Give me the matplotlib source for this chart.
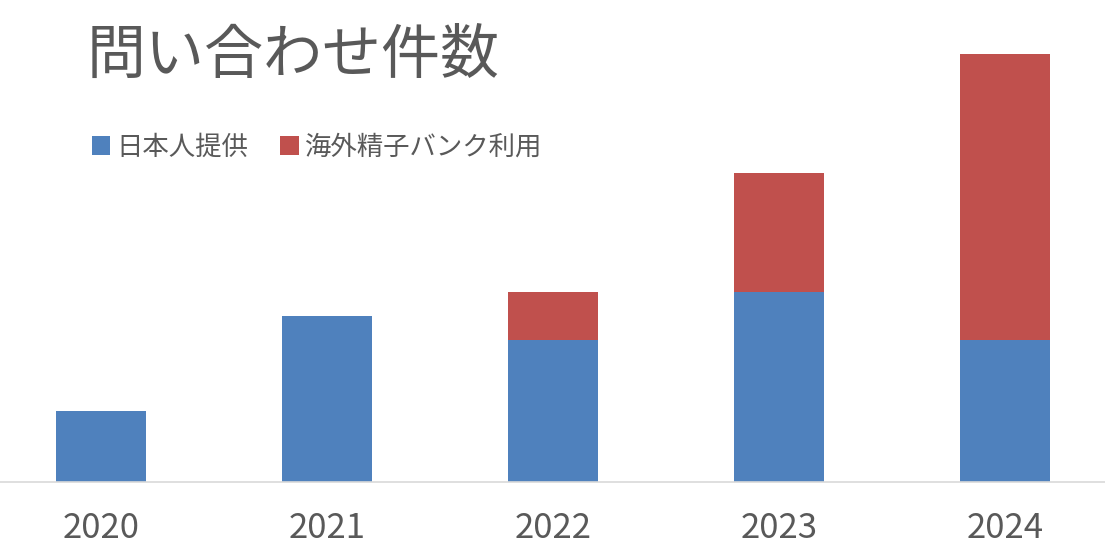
import matplotlib
matplotlib.use('Agg')
import matplotlib.pyplot as plt
import numpy as np

plt.rcParams['font.family'] = ['Noto Sans CJK JP', 'DejaVu Sans']

years = ['2020', '2021', '2022', '2023', '2024']
domestic = [3, 7, 6, 8, 6]      # 日本人提供
overseas = [0, 0, 2, 5, 12]     # 海外精子バンク利用
labels = ['日本人提供', '海外精子バンク利用']

blue = '#4F81BD'
red = '#C0504D'
grey = '#595959'

fig = plt.figure(figsize=(11.05, 5.58), dpi=100)
ax = fig.add_axes([0, 1 - 482 / 558, 1, 482 / 558])

x = np.arange(len(years))
b1 = ax.bar(x, domestic, width=0.4, color=blue, label=labels[0], zorder=2)
b2 = ax.bar(x, overseas, width=0.4, bottom=domestic, color=red, label=labels[1], zorder=2)

ax.set_xlim(-0.447, 4.442)
ax.set_ylim(0, 482 / 23.75)
ax.set_xticks(x)
ax.set_xticklabels(years, fontsize=25, color=grey)
ax.tick_params(axis='x', length=0, pad=21)
ax.set_yticks([])
for s in ['top', 'left', 'right']:
    ax.spines[s].set_visible(False)
ax.spines['bottom'].set_color('#D9D9D9')
ax.spines['bottom'].set_linewidth(1.2)

fig.text(87 / 1105, 1 - 56 / 558, '問い合わせ件数', fontsize=42.5, color=grey, va='center', ha='left')

leg = fig.legend(handles=[b1, b2], labels=labels, loc='center left',
                 bbox_to_anchor=(68 / 1105, 1 - 147 / 558), ncol=2, frameon=False,
                 fontsize=19, handlelength=0.7, handleheight=0.7, handletextpad=0.25,
                 columnspacing=1.2, labelcolor=grey)

fig.savefig('out.png', dpi=100)
